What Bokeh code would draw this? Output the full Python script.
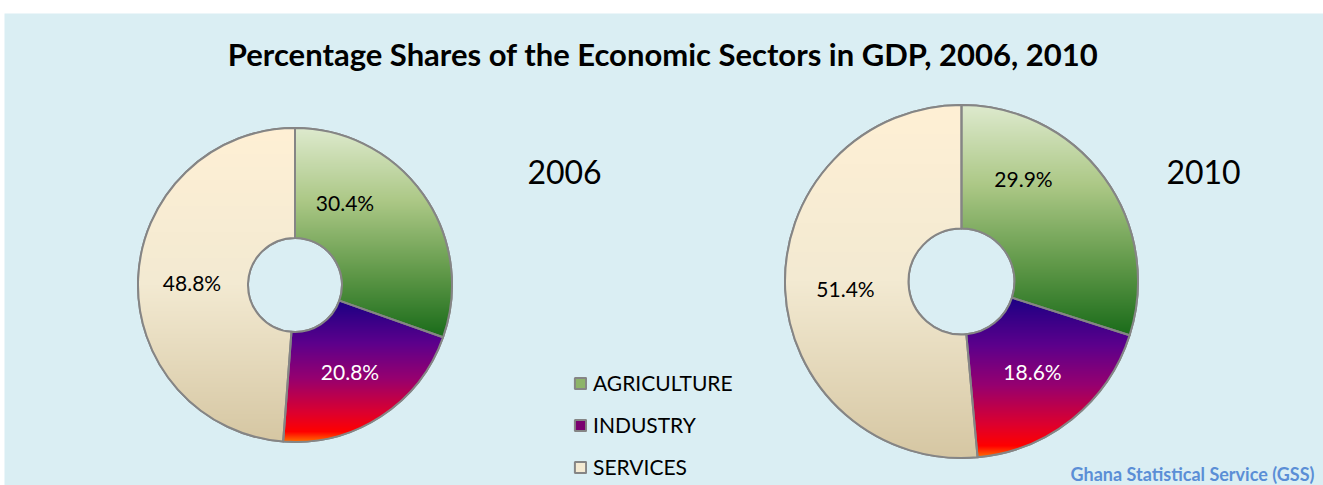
import numpy as np
from bokeh.plotting import figure
from bokeh.layouts import column, row
from bokeh.models import Range1d, Label, Legend, LegendItem, ColumnDataSource, Spacer
from bokeh.embed import file_html
from bokeh.resources import INLINE

# ---------------- data ----------------
sectors = ["AGRICULTURE", "INDUSTRY", "SERVICES"]
years = ["2006", "2010"]
shares_2006 = [30.4, 20.8, 48.8]
shares_2010 = [29.9, 18.6, 51.4]
title_text = "Percentage Shares of the Economic Sectors in GDP, 2006, 2010"
source_text = "Ghana Statistical Service (GSS)"

# ---------------- style ----------------
W, H = 1323, 485
TOP_PAD, LEFT_PAD = 13, 4
FW, FH = W - LEFT_PAD, H - TOP_PAD          # figure size (1 data unit = 1 px)
BG = "#DAEEF3"
OUTLINE = "#858585"
FONT = "Lato"
base_colors = ["#8DB468", "#7A0070", "#F4EAD2"]
label_colors = ["black", "white", "black"]
gradients = [
    [(0.0, (222, 234, 206)), (0.35, (172, 200, 134)), (0.7, (95, 152, 72)), (1.0, (26, 108, 26))],
    [(0.0, (28, 0, 132)), (0.3, (92, 0, 140)), (0.55, (150, 0, 112)), (0.8, (222, 0, 45)),
     (0.93, (255, 0, 0)), (1.0, (255, 110, 0))],
    [(0.0, (255, 240, 213)), (0.5, (243, 234, 210)), (1.0, (214, 199, 163))],
]


def sx(x):  # screen x -> data x
    return x - LEFT_PAD


def sy(y):  # screen y -> data y
    return H - y


donuts = [
    dict(year=years[0], shares=shares_2006, cx=sx(294.5), cy=sy(284.5), R=157.0, r=47.0,
         year_pos=(sx(564), sy(171)),
         label_off=[(50, -83), (55, 86), (-103, -3)]),
    dict(year=years[1], shares=shares_2010, cx=sx(961.0), cy=sy(281.0), R=176.5, r=53.0,
         year_pos=(sx(1203), sy(171)),
         label_off=[(62, -103), (71, 90), (-116, 7)]),
]

p = figure(width=FW, height=FH, x_range=Range1d(0, FW), y_range=Range1d(0, FH),
           output_backend="svg", toolbar_location=None,
           min_border_top=0, min_border_left=0, min_border_right=0, min_border_bottom=0)
p.axis.visible = False
p.xgrid.visible = False
p.ygrid.visible = False
p.outline_line_color = None
p.background_fill_color = BG
p.border_fill_color = BG


def interp(stops, t):
    t = np.clip(t, 0, 1)
    out = np.zeros(t.shape + (3,))
    ts = np.array([s[0] for s in stops])
    for c in range(3):
        out[..., c] = np.interp(t, ts, [s[1][c] for s in stops])
    return out


legend_renderer = None
for d in donuts:
    shares = np.array(d["shares"], dtype=float)
    frac = shares / shares.sum()
    cum = np.concatenate([[0], np.cumsum(frac)])
    start = np.pi / 2 - 2 * np.pi * cum[:-1]
    end = np.pi / 2 - 2 * np.pi * cum[1:]
    src = ColumnDataSource(dict(sector=sectors, share=list(shares), start=start, end=end,
                                color=base_colors))
    base = p.annular_wedge(x=d["cx"], y=d["cy"], inner_radius=d["r"], outer_radius=d["R"],
                           start_angle="start", end_angle="end", direction="clock",
                           fill_color="color", line_color=OUTLINE, line_width=2, source=src)
    if legend_renderer is None:
        legend_renderer = base

    # vertical gradient fill of each slice, computed from the same angles
    s = 2
    R, r = d["R"], d["r"]
    n = int(np.ceil(2 * R * s))
    coords = (np.arange(n) + 0.5) / s - R
    X, Y = np.meshgrid(coords, coords)  # row 0 = bottom
    rad = np.hypot(X, Y)
    ang = np.mod(np.pi / 2 - np.arctan2(Y, X), 2 * np.pi) / (2 * np.pi)  # clockwise from top
    cover = np.clip((R - rad) * s + 0.5, 0, 1) * np.clip((rad - r) * s + 0.5, 0, 1)
    rgb = np.zeros((n, n, 3))
    for i in range(len(shares)):
        m = (ang >= cum[i]) & (ang < cum[i + 1]) & (rad <= R) & (rad >= r)
        ys = Y[m]
        ytop, ybot = ys.max(), ys.min()
        sel = (ang >= cum[i]) & (ang < cum[i + 1])
        t = (ytop - Y) / (ytop - ybot)
        rgb[sel] = interp(gradients[i], t[sel])
    img = np.zeros((n, n, 4), dtype=np.uint8)
    img[..., :3] = rgb.astype(np.uint8)
    img[..., 3] = (cover * 255).astype(np.uint8)
    p.image_rgba(image=[img.view(np.uint32).reshape(n, n)], x=d["cx"] - R, y=d["cy"] - R,
                 dw=2 * R, dh=2 * R)

    p.annular_wedge(x=d["cx"], y=d["cy"], inner_radius=d["r"], outer_radius=d["R"],
                    start_angle="start", end_angle="end", direction="clock",
                    fill_alpha=0, line_color=OUTLINE, line_width=2, source=src)

    for i, v in enumerate(shares):
        dx, dy = d["label_off"][i]
        p.add_layout(Label(x=d["cx"] + dx, y=d["cy"] - dy, text=f"{v:.1f}%",
                           text_align="center", text_baseline="middle",
                           text_font=FONT, text_font_size="21px", text_color=label_colors[i]))
    yx, yy = d["year_pos"]
    p.add_layout(Label(x=yx, y=yy, text=d["year"], text_align="center", text_baseline="middle",
                       text_font=FONT, text_font_size="32px", text_color="black"))

p.add_layout(Label(x=sx(662.5), y=sy(53), text=title_text, text_align="center",
                   text_baseline="middle", text_font=FONT, text_font_style="bold",
                   text_font_size="31px", text_color="black"))
p.add_layout(Label(x=sx(1314), y=sy(473), text=source_text, text_align="right",
                   text_baseline="middle", text_font=FONT, text_font_style="bold",
                   text_font_size="18px", text_color="#5B8ED6"))

legend = Legend(items=[LegendItem(label=sec, renderers=[legend_renderer], index=i)
                       for i, sec in enumerate(sectors)],
                location=(sx(573), 6), orientation="vertical",
                glyph_width=14, glyph_height=14, label_height=14, spacing=17,
                label_standoff=6, padding=0, margin=0,
                label_text_font=FONT, label_text_font_size="21px", label_text_color="black",
                border_line_color=None, background_fill_alpha=0)
p.add_layout(legend, "center")

layout = column(Spacer(width=W, height=TOP_PAD),
                row(Spacer(width=LEFT_PAD, height=FH), p, spacing=0),
                spacing=0)

open("out.html", "w").write(file_html(layout, INLINE))
